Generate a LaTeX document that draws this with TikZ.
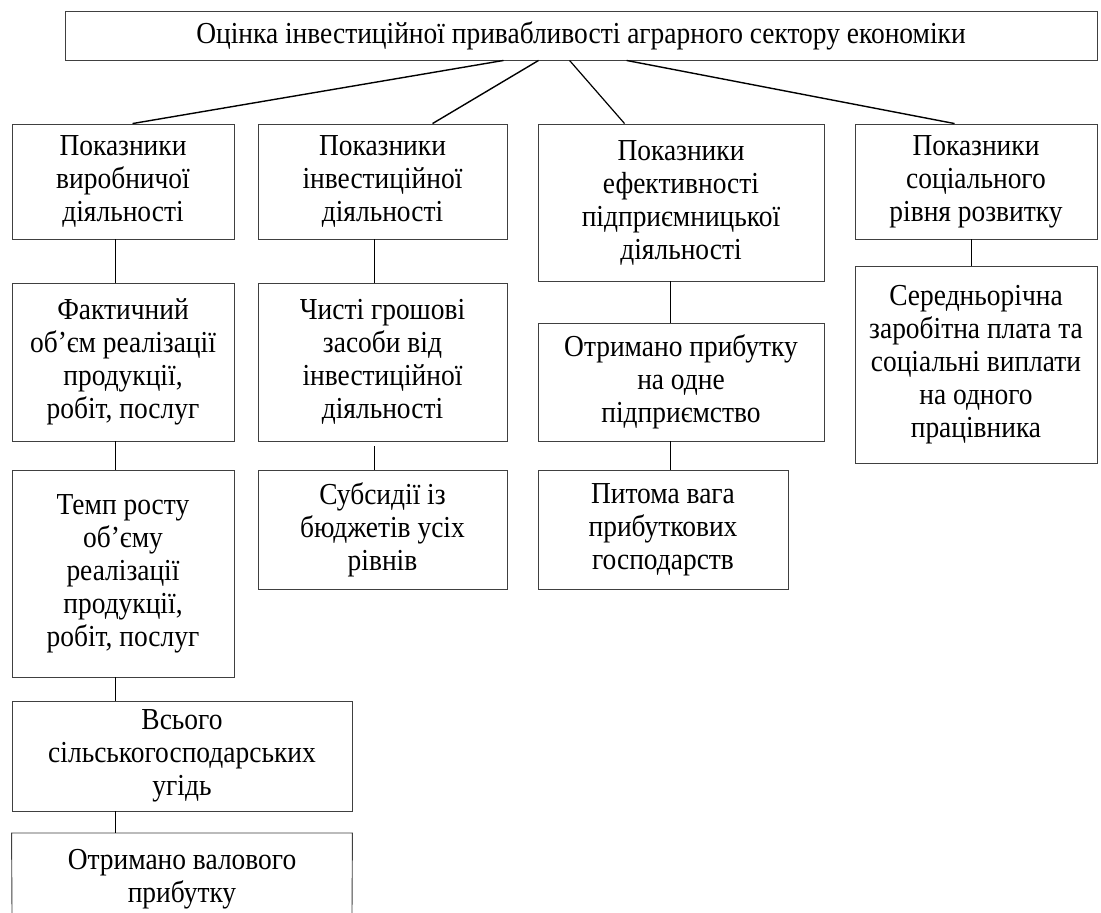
\documentclass[tikz,border=0pt]{standalone}
\usepackage{fontspec}
\setmainfont{Liberation Serif}[FakeStretch=0.9]
\newcommand\boxfont{\fontsize{30.5}{33}\selectfont}
\tikzset{
  bx/.style={draw=black!75, line width=0.9pt, align=center, inner sep=1pt, font=\boxfont},
  conn/.style={draw=black, line width=1.2pt},
  diag/.style={draw=black, line width=1.4pt}
}
\begin{document}
\begin{tikzpicture}[x=1pt,y=-1pt]
\useasboundingbox (0,0) rectangle (1101,913);
\clip (0,0) rectangle (1101,913);
\fill[white] (0,0) rectangle (1101,913);
% top
\node[bx, minimum width=1032pt, minimum height=49pt] (top) at (581,35.5) {Оцінка інвестиційної привабливості аграрного сектору економіки};
% level 1
\node[bx, minimum width=222pt, minimum height=115pt] (b1) at (123,181.5) {Показники\\виробничої\\діяльності};
\node[bx, minimum width=249pt, minimum height=115pt] (b2) at (382.5,181.5) {Показники\\інвестиційної\\діяльності};
\node[bx, minimum width=286pt, minimum height=157pt] (b3) at (681,202.5) {Показники\\ефективності\\підприємницької\\діяльності};
\node[bx, minimum width=242pt, minimum height=115pt] (b4) at (976,181.5) {Показники\\соціального\\рівня розвитку};
% level 2
\node[bx, minimum width=222pt, minimum height=158pt] (c1) at (123,362) {Фактичний\\об’єм реалізації\\продукції,\\робіт, послуг};
\node[bx, minimum width=249pt, minimum height=158pt] (c2) at (382.5,362) {Чисті грошові\\засоби від\\інвестиційної\\діяльності};
\node[bx, minimum width=286pt, minimum height=118pt] (c3) at (681,382) {Отримано прибутку\\на одне\\підприємство};
\node[bx, minimum width=242pt, minimum height=197pt] (c4) at (976,364.5) {Середньорічна\\заробітна плата та\\соціальні виплати\\на одного\\працівника};
% level 3
\node[bx, minimum width=222pt, minimum height=207pt] (d1) at (123,573.5) {Темп росту\\об’єму\\реалізації\\продукції,\\робіт, послуг};
\node[bx, minimum width=249pt, minimum height=119pt] (d2) at (382.5,529.5) {Субсидії із\\бюджетів усіх\\рівнів};
\node[bx, minimum width=250pt, minimum height=119pt] (d3) at (663,529.5) {Питома вага\\прибуткових\\господарств};
% level 4, 5
\node[bx, minimum width=340pt, minimum height=110pt] (e1) at (182,756) {Всього\\сільськогосподарських\\угідь};
\node[bx, draw=none, anchor=north, minimum width=340pt, inner ysep=16pt] (f1) at (182,833) {Отримано валового\\прибутку};
\coordinate (fl) at (12,913);
\coordinate (fr) at (352,913);
\draw[draw=black!75, line width=0.9pt] (fl) -- (f1.north west) -- (f1.north east) -- (fr);
% diagonal connectors
\draw[diag] ([xshift=439pt]top.south west) -- ([xshift=121pt]b1.north west);
\draw[diag] ([xshift=474pt]top.south west) -- ([xshift=175pt]b2.north west);
\draw[conn] ([xshift=505pt]top.south west) -- ([xshift=87pt]b3.north west);
\draw[diag] ([xshift=562pt]top.south west) -- ([xshift=100pt]b4.north west);
% vertical connectors
\draw[conn] ([xshift=104pt]b1.south west) -- ([xshift=104pt]c1.north west);
\draw[conn] ([xshift=104pt]c1.south west) -- ([xshift=104pt]d1.north west);
\draw[conn] ([xshift=104pt]d1.south west) -- ([xshift=104pt]e1.north west);
\draw[conn] ([xshift=104pt]e1.south west) -- ([xshift=104pt]f1.north west);
\draw[conn] ([xshift=117pt]b2.south west) -- ([xshift=117pt]c2.north west);
\draw[conn] ([xshift=117pt,yshift=-5pt]c2.south west) -- ([xshift=117pt]d2.north west);
\draw[conn] ([xshift=133pt]b3.south west) -- ([xshift=133pt]c3.north west);
\draw[conn] ([xshift=133pt]c3.south west) -- ([xshift=133pt]d3.north west);
\draw[conn] ([xshift=117pt]b4.south west) -- ([xshift=117pt]c4.north west);
\end{tikzpicture}
\end{document}
